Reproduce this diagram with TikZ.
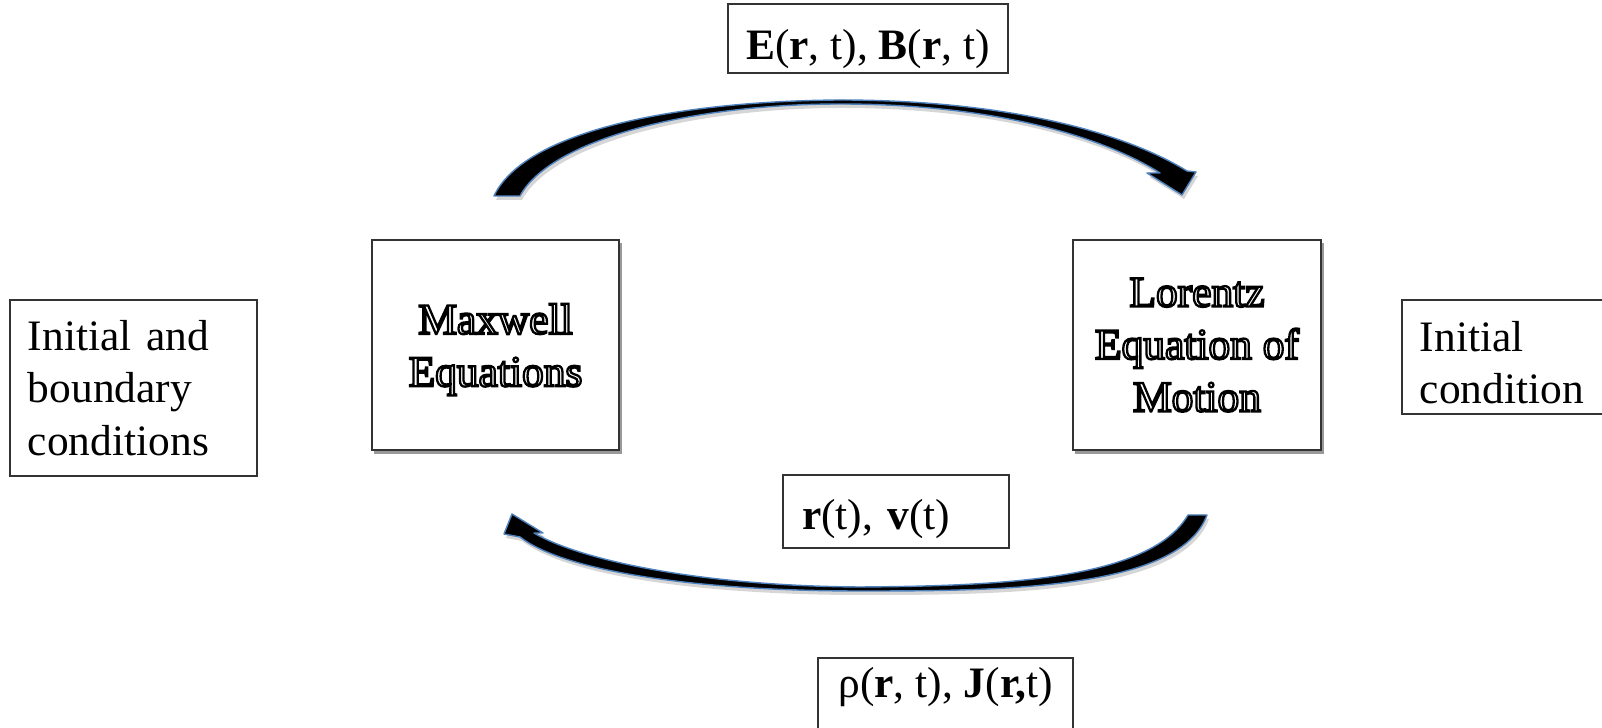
\documentclass[tikz,border=0pt]{standalone}
\usepackage{fontspec}
\setmainfont{Liberation Serif}
\usetikzlibrary{shadows}
\newcommand{\fs}{\fontsize{12.35pt}{14.9pt}\selectfont\frenchspacing}
\newcommand{\engr}[1]{\special{pdf:literal direct 2 Tr 0.65 w 0 G 1 g}#1\special{pdf:literal direct 0 Tr}}
\definecolor{arrowblue}{RGB}{79,129,189}
\begin{document}
\begin{tikzpicture}[x=0.01cm,y=-0.01cm,
  box/.style={draw=black!80, line width=0.4pt, fill=white, font=\fs, inner sep=0pt, outer sep=0pt},
  eqbox/.style={box, line width=0.5pt, align=center, text=white, minimum width=2.47cm, minimum height=2.10cm,
    drop shadow={shadow xshift=0.7pt, shadow yshift=-1pt, opacity=0.4, fill=black}},
  arrowbody/.style={fill=black, draw=arrowblue, line width=0.4pt, line join=round},
  arrowshade/.style={fill=black!40, opacity=0.4}
]
\useasboundingbox (0,0) rectangle (1602,728);
\clip (0,0) rectangle (1602,728);

% boxes
\node[box, text width=2.11cm, inner xsep=0.18cm, minimum height=1.76cm, align=left] (ibc) at (133.5,388) {Initial and\\boundary\\conditions};
\node[eqbox, text depth=-0.04cm] (maxw) at (495.5,345) {\engr{Maxwell}\\\engr{Equations}};
\node[eqbox, minimum width=2.48cm] (lor) at (1197,345) {\engr{Lorentz}\\\engr{Equation of}\\\engr{Motion}};
\node[box, text width=1.87cm, inner xsep=0.18cm, minimum height=1.14cm, align=left] (ic) at (1513.5,357) {\rule{0pt}{0.42cm}Initial\\condition};
\node[box, anchor=north west, inner xsep=0.15cm, minimum width=2.80cm, text height=0.55cm, text depth=0.14cm] (eb) at (728,4) {\textbf{E}(\textbf{r}, t), \textbf{B}(\textbf{r}, t)};
\node[box, anchor=north west, text width=1.88cm, inner xsep=0.19cm, align=left, text height=0.54cm, text depth=0.19cm] (rv) at (783,475) {\textbf{r}(t), \textbf{v}(t)};
\node[box, anchor=north west, inner xsep=0.17cm, minimum width=2.55cm, text height=0.39cm, text depth=0.6cm] (rj) at (818,658) {ρ(\textbf{r}, t), \textbf{J}(\textbf{r,}t)};

% top curved arrow (Maxwell -> Lorentz)
\foreach \sty/\dx/\dy in {arrowshade/2/4, arrowbody/0/0}{
\path[\sty, shift={(\dx,\dy)}] (494,196) .. controls (525,130) and (680,101) .. (840,100)
  .. controls (1000,100) and (1120,130) .. (1187,171)
  -- (1196,172) -- (1182,195) -- (1147,173) -- (1160,173)
  .. controls (1100,135) and (990,104) .. (840,104)
  .. controls (690,104) and (550,140) .. (520,196) -- cycle;
}
% bottom curved arrow (Lorentz -> Maxwell)
\foreach \sty/\dx/\dy in {arrowshade/2/4, arrowbody/0/0}{
\path[\sty, shift={(\dx,\dy)}] (1207,515) .. controls (1180,590) and (1000,591) .. (860,591)
  .. controls (700,591) and (565,572) .. (520,537)
  -- (504,534) -- (512,514) -- (543,533) -- (534,533)
  .. controls (580,560) and (700,586) .. (860,587)
  .. controls (1000,586) and (1150,580) .. (1188,515) -- cycle;
}
\end{tikzpicture}
\end{document}
